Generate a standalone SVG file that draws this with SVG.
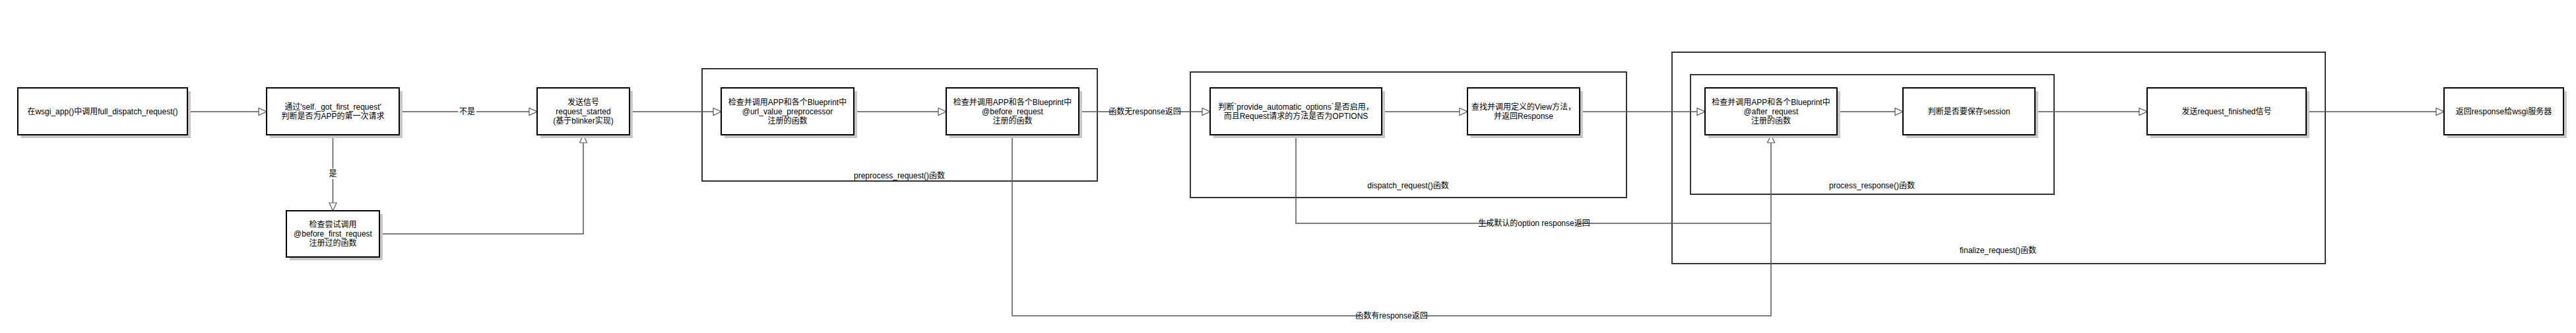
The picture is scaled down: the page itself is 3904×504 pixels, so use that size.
<svg xmlns="http://www.w3.org/2000/svg" width="3904" height="504" viewBox="0 0 3904 504">
<style>
text{font-family:"Liberation Sans","Noto Sans CJK SC",sans-serif;font-size:12px;fill:#000;text-anchor:middle}
.box{fill:#fff;stroke:#000;stroke-width:2}
.sh{fill:#c8c8c8}
.cont{fill:none;stroke:#333;stroke-width:2}
.edge{fill:none;stroke:#555;stroke-width:1.5}
.lbg{fill:#fff}
</style>
<defs>
<marker id="arr" markerUnits="userSpaceOnUse" markerWidth="14" markerHeight="13" refX="13" refY="6.5" orient="auto">
<path d="M1,1 L13,6.5 L1,12 Z" fill="#fff" stroke="#555" stroke-width="1.2"/>
</marker>
</defs>
<rect width="3904" height="504" fill="#fff"/>

<g id="containers">
<g id="finalize"><rect class="cont" x="2534" y="79" width="990" height="320"/><text x="3028" y="383">finalize_request()函数</text></g>
<g id="preprocess"><rect class="cont" x="1064" y="104" width="599" height="170"/><text x="1363" y="270">preprocess_request()函数</text></g>
<g id="dispatch"><rect class="cont" x="1804" y="109" width="661" height="190"/><text x="2134" y="285">dispatch_request()函数</text></g>
<g id="process"><rect class="cont" x="2562" y="113" width="551" height="181"/><text x="2837" y="285">process_response()函数</text></g>
</g>

<g id="connectors">
<path class="edge" d="M284,169 H404" marker-end="url(#arr)"/>
<path class="edge" d="M605,169 H814" marker-end="url(#arr)"/>
<path class="edge" d="M504.5,204 V319" marker-end="url(#arr)"/>
<path class="edge" d="M575,354 H884 V204" marker-end="url(#arr)"/>
<path class="edge" d="M954,169 H1093" marker-end="url(#arr)"/>
<path class="edge" d="M1294,169 H1434" marker-end="url(#arr)"/>
<path class="edge" d="M1635,169 H1834" marker-end="url(#arr)"/>
<path class="edge" d="M2094,169 H2224" marker-end="url(#arr)"/>
<path class="edge" d="M2394,169 H2584" marker-end="url(#arr)"/>
<path class="edge" d="M2784,169 H2884" marker-end="url(#arr)"/>
<path class="edge" d="M3084,169 H3254" marker-end="url(#arr)"/>
<path class="edge" d="M3495,169 H3704" marker-end="url(#arr)"/>
<path class="edge" d="M1964,204 V338 H2684"/>
<path class="edge" d="M1534,204 V478 H2684 V204" marker-end="url(#arr)"/>
<rect class="lbg" x="694" y="161" width="28" height="16"/><text x="708" y="173">不是</text>
<rect class="lbg" x="497" y="255" width="15" height="16"/><text x="504.5" y="267">是</text>
<rect class="lbg" x="1685" y="161" width="100" height="16"/><text x="1735" y="173">函数无response返回</text>
<rect class="lbg" x="2259" y="330" width="132" height="16"/><text x="2325" y="342">生成默认的option response返回</text>
<rect class="lbg" x="2059" y="470" width="100" height="16"/><text x="2109" y="482">函数有response返回</text>
</g>

<g id="n1"><rect class="sh" x="32" y="138" width="257" height="71"/><rect class="box" x="27" y="133" width="257" height="71"/><text x="155.5" y="173">在wsgi_app()中调用full_dispatch_request()</text></g>
<g id="n2"><rect class="sh" x="409" y="138" width="201" height="71"/><rect class="box" x="404" y="133" width="201" height="71"/><text x="504.5" y="166">通过'self._got_first_request'</text><text x="504.5" y="180">判断是否为APP的第一次请求</text></g>
<g id="n3"><rect class="sh" x="819" y="138" width="140" height="71"/><rect class="box" x="814" y="133" width="140" height="71"/><text x="884" y="159">发送信号</text><text x="884" y="173">request_started</text><text x="884" y="187">(基于blinker实现)</text></g>
<g id="n4"><rect class="sh" x="439" y="324" width="141" height="70"/><rect class="box" x="434" y="319" width="141" height="70"/><text x="504.5" y="344">检查尝试调用</text><text x="504.5" y="358">@before_first_request</text><text x="504.5" y="372">注册过的函数</text></g>
<g id="n5"><rect class="sh" x="1098" y="138" width="201" height="71"/><rect class="box" x="1093" y="133" width="201" height="71"/><text x="1193.5" y="159">检查并调用APP和各个Blueprint中</text><text x="1193.5" y="173">@url_value_preprocessor</text><text x="1193.5" y="187">注册的函数</text></g>
<g id="n6"><rect class="sh" x="1439" y="138" width="201" height="71"/><rect class="box" x="1434" y="133" width="201" height="71"/><text x="1534.5" y="159">检查并调用APP和各个Blueprint中</text><text x="1534.5" y="173">@before_request</text><text x="1534.5" y="187">注册的函数</text></g>
<g id="n7"><rect class="sh" x="1839" y="138" width="260" height="71"/><rect class="box" x="1834" y="133" width="260" height="71"/><text x="1964" y="166">判断`provide_automatic_options`是否启用，</text><text x="1964" y="180">而且Request请求的方法是否为OPTIONS</text></g>
<g id="n8"><rect class="sh" x="2229" y="138" width="170" height="71"/><rect class="box" x="2224" y="133" width="170" height="71"/><text x="2309" y="166">查找并调用定义的View方法，</text><text x="2309" y="180">并返回Response</text></g>
<g id="n9"><rect class="sh" x="2589" y="138" width="200" height="71"/><rect class="box" x="2584" y="133" width="200" height="71"/><text x="2684" y="159">检查并调用APP和各个Blueprint中</text><text x="2684" y="173">@after_request</text><text x="2684" y="187">注册的函数</text></g>
<g id="n10"><rect class="sh" x="2889" y="138" width="200" height="71"/><rect class="box" x="2884" y="133" width="200" height="71"/><text x="2984" y="173">判断是否要保存session</text></g>
<g id="n11"><rect class="sh" x="3259" y="138" width="241" height="71"/><rect class="box" x="3254" y="133" width="241" height="71"/><text x="3374.5" y="173">发送request_finished信号</text></g>
<g id="n12"><rect class="sh" x="3709" y="138" width="181" height="71"/><rect class="box" x="3704" y="133" width="181" height="71"/><text x="3794.5" y="173">返回response给wsgi服务器</text></g>
</svg>
